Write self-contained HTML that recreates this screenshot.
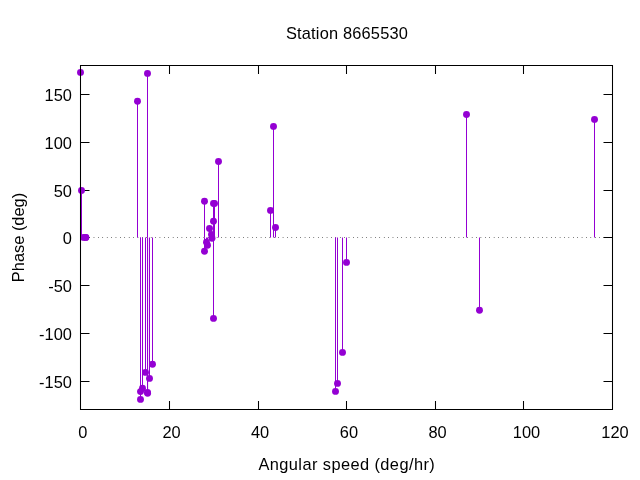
<!DOCTYPE html>
<html><head><meta charset="utf-8"><style>
html,body{margin:0;padding:0;background:#fff;width:640px;height:480px;overflow:hidden}
svg{display:block;will-change:transform}
</style></head><body>
<svg width="640" height="480" viewBox="0 0 640 480">
<rect width="640" height="480" fill="#fff"/>
<path d="M169.5 409.5v-8.5M169.5 65.5v8.5M258.5 409.5v-8.5M258.5 65.5v8.5M346.5 409.5v-8.5M346.5 65.5v8.5M435.5 409.5v-8.5M435.5 65.5v8.5M523.5 409.5v-8.5M523.5 65.5v8.5M80.5 94.5h9M612.5 94.5h-9M80.5 142.5h9M612.5 142.5h-9M80.5 190.5h9M612.5 190.5h-9M80.5 237.5h9M612.5 237.5h-9M80.5 285.5h9M612.5 285.5h-9M80.5 333.5h9M612.5 333.5h-9M80.5 381.5h9M612.5 381.5h-9" fill="none" stroke="#000" stroke-width="1.05"/>
<line x1="80.55" y1="237.5" x2="612.5" y2="237.5" stroke="#000" stroke-width="1" stroke-dasharray="0.5 3.897"/>
<line x1="80.5" y1="237.5" x2="80.5" y2="72.4" stroke="#9400d3" stroke-width="1"/>
<line x1="81.5" y1="237.5" x2="81.5" y2="190.5" stroke="#9400d3" stroke-width="1"/>
<line x1="83.5" y1="237.5" x2="83.5" y2="237.4" stroke="#9400d3" stroke-width="1"/>
<line x1="85.5" y1="237.5" x2="85.5" y2="237.4" stroke="#9400d3" stroke-width="1"/>
<line x1="85.9" y1="237.5" x2="85.9" y2="237.4" stroke="#9400d3" stroke-width="1"/>
<line x1="137.5" y1="237.5" x2="137.5" y2="101.3" stroke="#9400d3" stroke-width="1"/>
<line x1="140.5" y1="237.5" x2="140.5" y2="399.4" stroke="#9400d3" stroke-width="1"/>
<line x1="140.5" y1="237.5" x2="140.5" y2="391.6" stroke="#9400d3" stroke-width="1"/>
<line x1="142.5" y1="237.5" x2="142.5" y2="388.3" stroke="#9400d3" stroke-width="1"/>
<line x1="145.5" y1="237.5" x2="145.5" y2="372.4" stroke="#9400d3" stroke-width="1"/>
<line x1="147.5" y1="237.5" x2="147.5" y2="392.4" stroke="#9400d3" stroke-width="1"/>
<line x1="147.5" y1="237.5" x2="147.5" y2="73.4" stroke="#9400d3" stroke-width="1"/>
<line x1="147.6" y1="237.5" x2="147.6" y2="393.2" stroke="#9400d3" stroke-width="1"/>
<line x1="149.5" y1="237.5" x2="149.5" y2="378.4" stroke="#9400d3" stroke-width="1"/>
<line x1="152.5" y1="237.5" x2="152.5" y2="364.3" stroke="#9400d3" stroke-width="1"/>
<line x1="204.5" y1="237.5" x2="204.5" y2="251.3" stroke="#9400d3" stroke-width="1"/>
<line x1="204.5" y1="237.5" x2="204.5" y2="201.3" stroke="#9400d3" stroke-width="1"/>
<line x1="206.5" y1="237.5" x2="206.5" y2="242.3" stroke="#9400d3" stroke-width="1"/>
<line x1="207.5" y1="237.5" x2="207.5" y2="245.3" stroke="#9400d3" stroke-width="1"/>
<line x1="209.5" y1="237.5" x2="209.5" y2="228.5" stroke="#9400d3" stroke-width="1"/>
<line x1="211.5" y1="237.5" x2="211.5" y2="234.5" stroke="#9400d3" stroke-width="1"/>
<line x1="212.0" y1="237.5" x2="212.0" y2="238.3" stroke="#9400d3" stroke-width="1"/>
<line x1="213.5" y1="237.5" x2="213.5" y2="221.2" stroke="#9400d3" stroke-width="1"/>
<line x1="213.5" y1="237.5" x2="213.5" y2="203.4" stroke="#9400d3" stroke-width="1"/>
<line x1="213.5" y1="237.5" x2="213.5" y2="318.4" stroke="#9400d3" stroke-width="1"/>
<line x1="214.5" y1="237.5" x2="214.5" y2="203.4" stroke="#9400d3" stroke-width="1"/>
<line x1="218.5" y1="237.5" x2="218.5" y2="161.5" stroke="#9400d3" stroke-width="1"/>
<line x1="270.5" y1="237.5" x2="270.5" y2="210.4" stroke="#9400d3" stroke-width="1"/>
<line x1="273.5" y1="237.5" x2="273.5" y2="126.4" stroke="#9400d3" stroke-width="1"/>
<line x1="275.5" y1="237.5" x2="275.5" y2="227.5" stroke="#9400d3" stroke-width="1"/>
<line x1="335.5" y1="237.5" x2="335.5" y2="391.4" stroke="#9400d3" stroke-width="1"/>
<line x1="337.5" y1="237.5" x2="337.5" y2="383.4" stroke="#9400d3" stroke-width="1"/>
<line x1="342.5" y1="237.5" x2="342.5" y2="352.4" stroke="#9400d3" stroke-width="1"/>
<line x1="346.5" y1="237.5" x2="346.5" y2="262.4" stroke="#9400d3" stroke-width="1"/>
<line x1="466.5" y1="237.5" x2="466.5" y2="114.5" stroke="#9400d3" stroke-width="1"/>
<line x1="479.5" y1="237.5" x2="479.5" y2="310.3" stroke="#9400d3" stroke-width="1"/>
<line x1="594.5" y1="237.5" x2="594.5" y2="119.4" stroke="#9400d3" stroke-width="1"/>
<circle cx="80.5" cy="72.4" r="3.45" fill="#9400d3"/>
<circle cx="81.5" cy="190.5" r="3.45" fill="#9400d3"/>
<circle cx="83.5" cy="237.4" r="3.45" fill="#9400d3"/>
<circle cx="85.5" cy="237.4" r="3.45" fill="#9400d3"/>
<circle cx="85.9" cy="237.4" r="3.45" fill="#9400d3"/>
<circle cx="137.5" cy="101.3" r="3.45" fill="#9400d3"/>
<circle cx="140.5" cy="399.4" r="3.45" fill="#9400d3"/>
<circle cx="140.5" cy="391.6" r="3.45" fill="#9400d3"/>
<circle cx="142.5" cy="388.3" r="3.45" fill="#9400d3"/>
<circle cx="145.5" cy="372.4" r="3.45" fill="#9400d3"/>
<circle cx="147.5" cy="392.4" r="3.45" fill="#9400d3"/>
<circle cx="147.5" cy="73.4" r="3.45" fill="#9400d3"/>
<circle cx="147.6" cy="393.2" r="3.45" fill="#9400d3"/>
<circle cx="149.5" cy="378.4" r="3.45" fill="#9400d3"/>
<circle cx="152.5" cy="364.3" r="3.45" fill="#9400d3"/>
<circle cx="204.5" cy="251.3" r="3.45" fill="#9400d3"/>
<circle cx="204.5" cy="201.3" r="3.45" fill="#9400d3"/>
<circle cx="206.5" cy="242.3" r="3.45" fill="#9400d3"/>
<circle cx="207.5" cy="245.3" r="3.45" fill="#9400d3"/>
<circle cx="209.5" cy="228.5" r="3.45" fill="#9400d3"/>
<circle cx="211.5" cy="234.5" r="3.45" fill="#9400d3"/>
<circle cx="212.0" cy="238.3" r="3.45" fill="#9400d3"/>
<circle cx="213.5" cy="221.2" r="3.45" fill="#9400d3"/>
<circle cx="213.5" cy="203.4" r="3.45" fill="#9400d3"/>
<circle cx="213.5" cy="318.4" r="3.45" fill="#9400d3"/>
<circle cx="214.5" cy="203.4" r="3.45" fill="#9400d3"/>
<circle cx="218.5" cy="161.5" r="3.45" fill="#9400d3"/>
<circle cx="270.5" cy="210.4" r="3.45" fill="#9400d3"/>
<circle cx="273.5" cy="126.4" r="3.45" fill="#9400d3"/>
<circle cx="275.5" cy="227.5" r="3.45" fill="#9400d3"/>
<circle cx="335.5" cy="391.4" r="3.45" fill="#9400d3"/>
<circle cx="337.5" cy="383.4" r="3.45" fill="#9400d3"/>
<circle cx="342.5" cy="352.4" r="3.45" fill="#9400d3"/>
<circle cx="346.5" cy="262.4" r="3.45" fill="#9400d3"/>
<circle cx="466.5" cy="114.5" r="3.45" fill="#9400d3"/>
<circle cx="479.5" cy="310.3" r="3.45" fill="#9400d3"/>
<circle cx="594.5" cy="119.4" r="3.45" fill="#9400d3"/>
<path d="M80.5 65.5H612.5V409.5H80.5Z" fill="none" stroke="#000" stroke-width="1.05"/>
<g font-family='"Liberation Sans", sans-serif' font-size="16.4" fill="#000">
<text x="346.9" y="38.8" text-anchor="middle" textLength="122" lengthAdjust="spacing">Station 8665530</text>
<text x="71.9" y="101.0" text-anchor="end">150</text>
<text x="71.9" y="149.0" text-anchor="end">100</text>
<text x="71.9" y="197.0" text-anchor="end">50</text>
<text x="71.9" y="244.0" text-anchor="end">0</text>
<text x="71.9" y="292.0" text-anchor="end">-50</text>
<text x="71.9" y="340.0" text-anchor="end">-100</text>
<text x="71.9" y="388.0" text-anchor="end">-150</text>
<text x="82.90" y="437.55" text-anchor="middle">0</text>
<text x="171.55" y="437.55" text-anchor="middle">20</text>
<text x="260.10" y="437.55" text-anchor="middle">40</text>
<text x="348.90" y="437.55" text-anchor="middle">60</text>
<text x="437.50" y="437.55" text-anchor="middle">80</text>
<text x="526.50" y="437.55" text-anchor="middle">100</text>
<text x="615.00" y="437.55" text-anchor="middle">120</text>
<text x="346.6" y="470.1" text-anchor="middle" textLength="176.3" lengthAdjust="spacing">Angular speed (deg/hr)</text>
<text transform="translate(24.2 237.5) rotate(-90)" text-anchor="middle">Phase (deg)</text>
</g>
</svg>
</body></html>
